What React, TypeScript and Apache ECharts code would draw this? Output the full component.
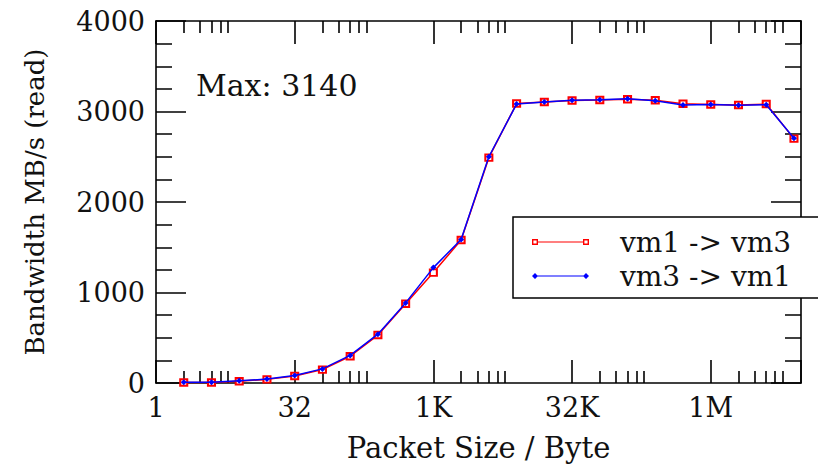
import React, { useEffect, useRef } from "react";
import * as echarts from "echarts";

// ---- data ----
const PACKET_SIZES = [
  2, 4, 8, 16, 32, 64, 128, 256, 512, 1024, 2048, 4096, 8192, 16384, 32768,
  65536, 131072, 262144, 524288, 1048576, 2097152, 4194304, 8388608,
];
const VM1_TO_VM3 = [
  5, 6, 20, 40, 78, 148, 296, 530, 875, 1220, 1580, 2490, 3088, 3105, 3122,
  3128, 3136, 3124, 3085, 3078, 3072, 3082, 2700,
];
const VM3_TO_VM1 = [
  7, 8, 24, 43, 84, 156, 305, 540, 885, 1275, 1585, 2500, 3082, 3104, 3124,
  3130, 3140, 3120, 3072, 3076, 3069, 3074, 2705,
];
const SERIES_NAMES = ["vm1 -> vm3", "vm3 -> vm1"];
const X_MIN_BYTES = 1;
const X_MAX_BYTES = 1e7;
const X_MAJOR_STEP = 5; // powers of two between labelled ticks (1, 32, 1K, 32K, 1M)
const X_MINOR_FACTORS = [2, 3, 4, 5, 6];
const Y_MIN = 0;
const Y_MAX = 4000;
const Y_INTERVAL = 1000;
const ANNOTATION = "Max: 3140";
const X_TITLE = "Packet Size / Byte";
const Y_TITLE = "Bandwidth MB/s (read)";

// ---- layout ----
const CHART_W = 818;
const CHART_H = 467;
const FONT = "DejaVu Serif";

function sizeLabel(n: number): string {
  if (n >= 1048576) return n / 1048576 + "M";
  if (n >= 1024) return n / 1024 + "K";
  return String(n);
}

const xMinLog = Math.log2(X_MIN_BYTES);
const xMaxLog = Math.log2(X_MAX_BYTES);

const xMinor: number[] = [];
for (let k = xMinLog; k <= xMaxLog; k += X_MAJOR_STEP) {
  for (const f of X_MINOR_FACTORS) {
    const v = k + Math.log2(f);
    if (v < xMaxLog) xMinor.push(v);
  }
}

const RED_ICON =
  "path://M0 0H6V6H0Z M1.4 1.4V4.6H4.6V1.4Z M6 2.4H51V3.6H6Z M51 0H57V6H51Z M52.4 1.4V4.6H55.6V1.4Z";
const BLUE_ICON =
  "path://M0 3L3 0L6 3L3 6Z M3 2.4H54V3.6H3Z M51 3L54 0L57 3L54 6Z";

function buildOption() {
  const lineStyle = { color: "#000", width: 1.6 };
  const xBase = (position: string, len: number, showLine: boolean, minorValues?: number[]) => ({
    type: "value" as const,
    position,
    min: xMinLog,
    max: xMaxLog,
    interval: X_MAJOR_STEP,
    splitLine: { show: false },
    axisLine: { show: showLine, onZero: false, lineStyle },
    axisTick: {
      show: true,
      inside: true,
      length: len,
      ...(minorValues ? { customValues: minorValues } : {}),
      lineStyle: { color: "#000", width: 1.6 },
    },
    axisLabel: { show: false },
  });
  const yBase = (position: string) => ({
    type: "value" as const,
    position,
    min: Y_MIN,
    max: Y_MAX,
    interval: Y_INTERVAL,
    splitLine: { show: false },
    axisLine: { show: true, onZero: false, lineStyle },
    axisTick: { show: true, inside: true, length: 30, lineStyle: { color: "#000", width: 1.5 } },
    minorTick: { show: true, splitNumber: 4, length: 16, lineStyle: { color: "#000", width: 1.5 } },
    axisLabel: { show: false },
  });
  return {
    animation: false,
    backgroundColor: "#fff",
    textStyle: { fontFamily: FONT },
    grid: { left: 156, right: CHART_W - 801, top: 21, bottom: 78, containLabel: false },
    xAxis: [
      {
        ...xBase("bottom", 23, true),
        name: X_TITLE,
        nameLocation: "middle",
        nameGap: 50,
        nameTextStyle: { fontSize: 29, color: "#111", fontFamily: FONT },
        axisLabel: {
          show: true,
          margin: 11,
          fontSize: 27,
          color: "#111",
          fontFamily: FONT,
          formatter: (v: number) => {
            const r = Math.round(v);
            if (Math.abs(v - r) > 1e-6 || r % X_MAJOR_STEP !== 0) return "";
            return sizeLabel(Math.pow(2, r));
          },
        },
      },
      xBase("top", 23, true),
      xBase("bottom", 12, false, xMinor),
      xBase("top", 12, false, xMinor),
    ],
    yAxis: [
      {
        ...yBase("left"),
        name: Y_TITLE,
        nameLocation: "middle",
        nameGap: 108,
        nameTextStyle: { fontSize: 26, color: "#111", fontFamily: FONT },
        axisLabel: {
          show: true,
          margin: 11,
          fontSize: 27,
          color: "#111",
          fontFamily: FONT,
          formatter: (v: number) => String(v),
        },
      },
      yBase("right"),
    ],
    legend: {
      orient: "vertical",
      left: 513,
      top: 217,
      padding: [11, 40, 8, 19],
      itemGap: 6,
      itemWidth: 57,
      itemHeight: 6,
      backgroundColor: "#fff",
      borderColor: "#000",
      borderWidth: 1.5,
      borderRadius: 0,
      z: 10,
      textStyle: {
        fontSize: 28,
        lineHeight: 28,
        color: "#111",
        fontFamily: FONT,
        padding: [0, 0, 0, 26],
      },
      data: [
        { name: SERIES_NAMES[0], icon: RED_ICON, itemStyle: { color: "#ff0000", borderWidth: 0 } },
        { name: SERIES_NAMES[1], icon: BLUE_ICON, itemStyle: { color: "#0000ff", borderWidth: 0 } },
      ],
    },
    graphic: [
      {
        type: "text",
        x: 196,
        y: 85,
        style: {
          text: ANNOTATION,
          fontSize: 30,
          fontFamily: FONT,
          fill: "#111",
          align: "left",
          verticalAlign: "middle",
        },
      },
    ],
    series: [
      {
        type: "line",
        name: SERIES_NAMES[0],
        xAxisIndex: 0,
        yAxisIndex: 0,
        data: PACKET_SIZES.map((s, i) => [Math.log2(s), VM1_TO_VM3[i]]),
        symbol: "emptyRect",
        symbolSize: [7, 6.5],
        showSymbol: true,
        lineStyle: { color: "#ff0000", width: 1.5 },
        itemStyle: { color: "#ff0000", borderWidth: 1.4 },
        z: 3,
      },
      {
        type: "line",
        name: SERIES_NAMES[1],
        xAxisIndex: 0,
        yAxisIndex: 0,
        data: PACKET_SIZES.map((s, i) => [Math.log2(s), VM3_TO_VM1[i]]),
        symbol: "diamond",
        symbolSize: [6, 6],
        showSymbol: true,
        lineStyle: { color: "#0000ff", width: 1.5 },
        itemStyle: { color: "#0000ff" },
        z: 4,
      },
    ],
  };
}

export default function App() {
  const ref = useRef<HTMLDivElement>(null);
  useEffect(() => {
    if (!ref.current) return;
    const chart = echarts.init(ref.current, null, { renderer: "svg" });
    chart.setOption(buildOption() as any);
    return () => chart.dispose();
  }, []);
  return (
    <div
      ref={ref}
      style={{ position: "fixed", left: 0, top: 0, width: CHART_W, height: CHART_H, background: "#fff" }}
    />
  );
}
